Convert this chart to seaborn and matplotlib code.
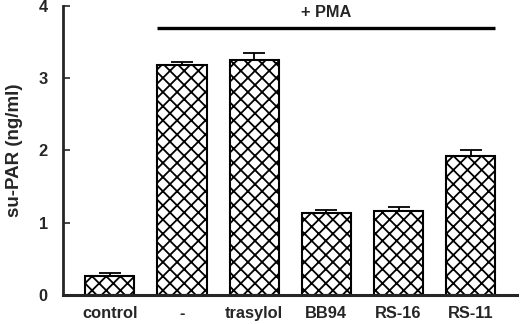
import matplotlib
matplotlib.use("Agg")
import matplotlib.pyplot as plt
import seaborn as sns
import numpy as np
import pandas as pd

categories = ["control", "-", "trasylol", "BB94", "RS-16", "RS-11"]
values = [0.26, 3.18, 3.25, 1.14, 1.16, 1.93]
errors = [0.04, 0.05, 0.10, 0.03, 0.06, 0.07]
yticks = [0, 1, 2, 3, 4]
bracket_label = "+ PMA"
bracket_y = 3.69
ylabel = "su-PAR (ng/ml)"

DPI = 85
S = 100 / DPI  # scale point sizes so they look as at 100 dpi

sns.set_style("ticks")
plt.rcParams["font.family"] = ["Liberation Sans", "DejaVu Sans"]
plt.rcParams["font.weight"] = "bold"
plt.rcParams["hatch.linewidth"] = 1.3 * S

df = pd.DataFrame({"cat": categories, "val": values})

fig = plt.figure(figsize=(520 / DPI, 324 / DPI), dpi=DPI)
ax = fig.add_axes([0.121, 0.0895, 0.873, 0.892])

bw = 0.68
sns.barplot(data=df, x="cat", y="val", color="white", edgecolor="black",
            linewidth=1.5 * S, width=bw, ax=ax, errorbar=None, saturation=1)
for p in ax.patches:
    p.set_hatch("xx")
    p.set_facecolor("white")
    p.set_edgecolor("black")

x = np.arange(len(categories))
ax.errorbar(x, values, yerr=[np.zeros(len(errors)), errors], fmt="none",
            ecolor="black", elinewidth=1.3 * S, capsize=8 * S,
            capthick=1.3 * S, zorder=1)

ax.set_xlim(-0.65, 5.64)
ax.set_ylim(0, 4)
ax.set_yticks(yticks)
ax.set_yticklabels([str(t) for t in yticks], fontsize=11.8 * S, fontweight="bold")
ax.set_xticks(x)
ax.set_xticklabels(categories, fontsize=11.8 * S, fontweight="bold")
ax.tick_params(axis="y", direction="in", length=5 * S, width=1.2 * S, pad=11 * S)
ax.tick_params(axis="x", length=0, pad=8 * S)
ax.set_xlabel("")
ax.set_ylabel(ylabel, fontsize=13.5 * S, fontweight="bold", labelpad=11 * S)

sns.despine(ax=ax)
ax.spines["left"].set_linewidth(2 * S)
ax.spines["bottom"].set_linewidth(2.2 * S)

x0 = x[1] - bw / 2
x1 = x[-1] + bw / 2
ax.plot([x0, x1], [bracket_y, bracket_y], color="black", lw=2.4 * S,
        clip_on=False, solid_capstyle="butt")
ax.text((x0 + x1) / 2, 3.91, bracket_label, ha="center", va="center",
        fontsize=11.8 * S, fontweight="bold")

fig.savefig("out.png", dpi=DPI)
